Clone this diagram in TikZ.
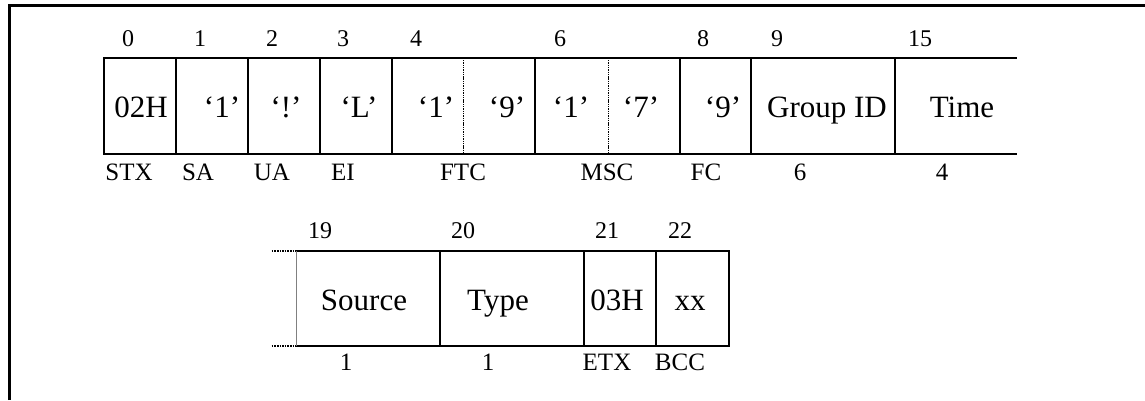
\documentclass[tikz,border=0pt]{standalone}
\usepackage{fontspec}
\setmainfont{Liberation Serif}
\begin{document}
\begin{tikzpicture}[x=1pt,y=-1pt]
\useasboundingbox (0,0) rectangle (1145,400);
\tikzset{
  num/.style={font=\fontsize{24}{24}\selectfont, inner sep=0pt, anchor=base},
  lab/.style={font=\fontsize{25}{25}\selectfont, inner sep=0pt, anchor=base},
  celltxt/.style={font=\fontsize{31}{31}\selectfont, inner sep=0pt, anchor=base},
  solidline/.style={line width=2pt},
  thickline/.style={line width=2.6pt},
  dashline/.style={line width=0.9pt, dash pattern=on 1.4pt off 0.9pt},
  dotline/.style={line width=1.6pt, dash pattern=on 1.6pt off 1pt},
  thinline/.style={line width=1pt, draw=gray},
  frameline/.style={line width=3pt}
}
% outer frame
\draw[frameline] (9.5,400) -- (9.5,5.7) -- (1145,5.7);

% ---------- row 1 ----------
\draw[solidline] (103,57.7) -- (1017,57.7);
\draw[solidline] (103,153.7) -- (1017,153.7);
\foreach \xx in {104,176,248,320,392,680,751}
  \draw[solidline] (\xx,57.7) -- (\xx,153.7);
\foreach \xx in {535,895}
  \draw[thickline] (\xx,57.7) -- (\xx,153.7);
\foreach \xx in {463,608}
  \draw[dashline] (\xx,57.7) -- (\xx,153.7);

% numbers
\node[num] (n0) at (128,46.7) {0};
\node[num] (n1) at (200,46.7) {1};
\node[num] (n2) at (272,46.7) {2};
\node[num] (n3) at (343,46.7) {3};
\node[num] (n4) at (416,46.7) {4};
\node[num] (n6) at (560,46.7) {6};
\node[num] (n8) at (703,46.7) {8};
\node[num] (n9) at (777,46.7) {9};
\node[num] (n15) at (920,46.7) {15};

% cell texts
\node[celltxt] (c0) at (141,117) {02H};
\node[celltxt] (c1) at (222,117) {‘1’};
\node[celltxt] (c2) at (286,117) {‘!’};
\node[celltxt] (c3) at (359,117) {‘L’};
\node[celltxt] (c4) at (436,117) {‘1’};
\node[celltxt] (c5) at (507,117) {‘9’};
\node[celltxt] (c6) at (571,117) {‘1’};
\node[celltxt] (c7) at (641,117) {‘7’};
\node[celltxt] (c8) at (723,117) {‘9’};
\node[celltxt] (c9) at (827,117) {Group ID};
\node[celltxt] (c15) at (962,117) {Time};

% labels
\node[lab] (lstx) at (129,180) {STX};
\node[lab] (lsa) at (198,180) {SA};
\node[lab] (lua) at (272,180) {UA};
\node[lab] (lei) at (343,180) {EI};
\node[lab] (lftc) at (463,180) {FTC};
\node[lab] (lmsc) at (607,180) {MSC};
\node[lab] (lfc) at (706,180) {FC};
\node[lab] (lgid) at (800,180) {6};
\node[lab] (ltime) at (942,180) {4};

% ---------- row 2 ----------
\draw[dotline] (271.7,250.7) -- (296,250.7);
\draw[dotline] (271.7,345.7) -- (296,345.7);
\draw[solidline] (296,250.7) -- (730,250.7);
\draw[solidline] (296,345.7) -- (730,345.7);
\draw[thinline] (296,250.7) -- (296,345.7);
\foreach \xx in {440,584,656,729}
  \draw[solidline] (\xx,250.7) -- (\xx,345.7);

\node[num] (n19) at (320,238.3) {19};
\node[num] (n20) at (463,238.3) {20};
\node[num] (n21) at (607,238.3) {21};
\node[num] (n22) at (680,238.3) {22};

\node[celltxt] (c19) at (364,310) {Source};
\node[celltxt] (c20) at (498,310) {Type};
\node[celltxt] (c21) at (617,310) {03H};
\node[celltxt] (c22) at (690,310) {xx};

\node[lab] (lsrc) at (346,370) {1};
\node[lab] (ltype) at (488,370) {1};
\node[lab] (letx) at (607,370) {ETX};
\node[lab] (lbcc) at (680,370) {BCC};
\end{tikzpicture}
\end{document}
